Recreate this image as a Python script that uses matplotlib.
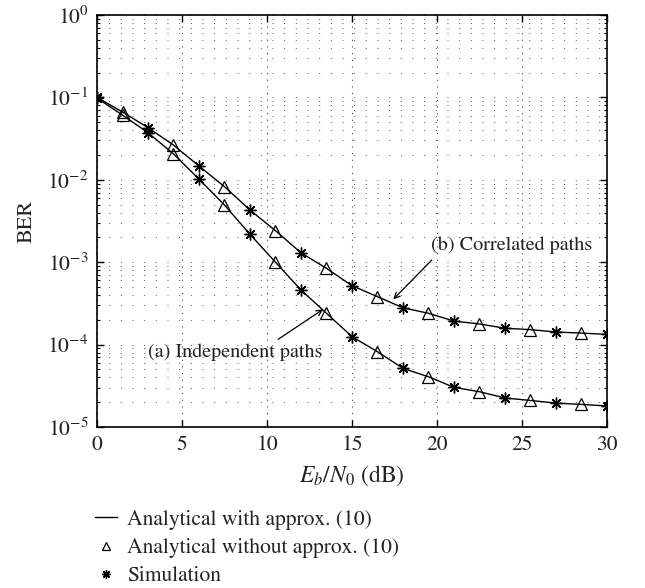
import numpy as np
import matplotlib
matplotlib.use("Agg")
import matplotlib.pyplot as plt
from matplotlib.lines import Line2D
from matplotlib.ticker import LogLocator, NullFormatter

plt.rcParams['font.family'] = ['STIXGeneral', 'DejaVu Serif']
plt.rcParams['mathtext.fontset'] = 'stix'

# Eb/N0 (dB), one point every 1.5 dB
snr = [0, 1.5, 3, 4.5, 6, 7.5, 9, 10.5, 12, 13.5, 15, 16.5, 18, 19.5, 21,
       22.5, 24, 25.5, 27, 28.5, 30]

# (a) independent paths
ber_indep = [0.098, 0.061, 0.0373, 0.0206, 0.0102, 0.00494, 0.00218, 0.001,
             0.00046, 0.00024, 0.000125, 8.2e-5, 5.15e-5, 4.07e-5, 3.03e-5,
             2.68e-5, 2.25e-5, 2.1e-5, 1.95e-5, 1.88e-5, 1.8e-5]

# (b) correlated paths
ber_corr = [0.1, 0.0665, 0.0429, 0.0264, 0.0147, 0.00825, 0.0043, 0.00241,
            0.0013, 0.000843, 0.000519, 0.000382, 0.00028, 0.00024, 0.000193,
            0.000178, 0.000158, 0.000152, 0.000142, 0.000138, 0.000133]

snr = np.array(snr)
txt_col = '#222222'
fs = 16

fig = plt.figure(figsize=(6.45, 5.88), dpi=100)
ax = fig.add_axes([0.1504, 0.2738, 0.7906, 0.7007])

for ber in [ber_indep, ber_corr]:
    ber = np.array(ber)
    ax.plot(snr, ber, color='black', lw=1.0, zorder=3)
    # triangles at odd points, stars at even points
    ax.plot(snr[1::2], ber[1::2], ls='none', marker='^', ms=9, mfc='none',
            mec='black', mew=0.9, zorder=4)
    ax.plot(snr[0::2], ber[0::2], ls='none', marker=(8, 2, 0), ms=8.5,
            mec='black', mew=1.0, zorder=4)

ax.set_yscale('log')
ax.set_xlim(0, 30)
ax.set_ylim(1e-5, 1)
ax.set_xticks([0, 5, 10, 15, 20, 25, 30])
ax.yaxis.set_major_locator(LogLocator(base=10, numticks=10))
ax.yaxis.set_minor_locator(LogLocator(base=10, subs=np.arange(2, 10), numticks=20))
ax.yaxis.set_minor_formatter(NullFormatter())

ax.tick_params(which='both', direction='in', top=True, right=True,
               labelsize=15.5, colors='black', labelcolor=txt_col)
ax.tick_params(which='major', length=5, width=1.0, pad=6)
ax.tick_params(which='minor', length=2.5, width=0.8)
for s in ax.spines.values():
    s.set_linewidth(1.2)

# dotted grid, MATLAB style
ax.grid(True, which='both', axis='y', color='#555555', lw=0.7,
        linestyle=(0, (1, 11)))
ax.grid(True, which='major', axis='x', color='#444444', lw=0.8,
        linestyle=(0, (1, 5)))

ax.set_ylabel('BER', fontsize=fs, color=txt_col, labelpad=8)
ax.set_xlabel(r'$E_b/N_0$ (dB)', fontsize=fs + 1, color=txt_col, labelpad=6)

# annotations: text and arrows drawn separately
ax.text(24.4, 1.62e-3, '(b) Correlated paths', fontsize=14.5, color=txt_col,
        ha='center', va='center')
ax.annotate('', xy=(17.43, 3.55e-4), xytext=(19.69, 1.06e-3),
            arrowprops=dict(arrowstyle='->', color='black', lw=0.9,
                            shrinkA=0, shrinkB=0))
ax.text(8.14, 8.2e-5, '(a) Independent paths', fontsize=14.5, color=txt_col,
        ha='center', va='center')
ax.annotate('', xy=(13.3, 2.68e-4), xytext=(10.66, 1.16e-4),
            arrowprops=dict(arrowstyle='->', color='black', lw=0.9,
                            shrinkA=0, shrinkB=0))

handles = [
    Line2D([], [], color='black', lw=1.0),
    Line2D([], [], ls='none', marker='^', ms=6, mfc='none', mec='black', mew=0.9),
    Line2D([], [], ls='none', marker=(8, 2, 0), ms=6, mec='black', mew=1.0),
]
labels = ['Analytical with approx. (10)', 'Analytical without approx. (10)',
          'Simulation']
leg = fig.legend(handles, labels, loc='upper left', frameon=False, fontsize=15.5,
                 handlelength=1.05, handletextpad=0.45, labelspacing=0.38,
                 borderaxespad=0, borderpad=0)
leg.set_bbox_to_anchor((0.147, 0.133), transform=fig.transFigure)
for t in leg.get_texts():
    t.set_color(txt_col)

fig.savefig('out.png', dpi=100)
